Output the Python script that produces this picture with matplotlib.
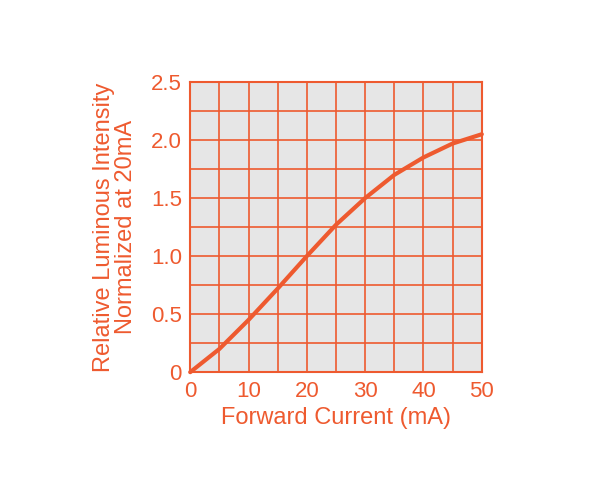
import matplotlib
matplotlib.use("Agg")
import matplotlib.pyplot as plt
import numpy as np

current = [0, 5, 10, 15, 20, 25, 30, 35, 40, 45, 50]
intensity = [0.0, 0.2, 0.45, 0.72, 1.0, 1.27, 1.5, 1.7, 1.85, 1.97, 2.05]
xticks = [0, 10, 20, 30, 40, 50]
yticks = [0, 0.5, 1.0, 1.5, 2.0, 2.5]
ylabels = ["0", "0.5", "1.0", "1.5", "2.0", "2.5"]

c = "#EE5A2F"
plt.rcParams['font.family'] = ['Liberation Sans', 'DejaVu Sans']
fig = plt.figure(figsize=(6, 4.91), dpi=100)
ax = fig.add_axes([0.317, 0.242, 0.486, 0.591])
ax.set_facecolor("#E6E6E6")
ax.set_xlim(0, 50)
ax.set_ylim(0, 2.5)
ax.set_xticks(xticks)
ax.set_xticks(np.arange(0, 51, 5), minor=True)
ax.set_yticks(yticks)
ax.set_yticklabels(ylabels)
ax.set_yticks(np.arange(0, 2.51, 0.25), minor=True)
ax.grid(True, which='both', color=c, linewidth=1.2)
ax.set_axisbelow(True)
ax.tick_params(which='both', length=0, labelsize=16, labelcolor=c, pad=6)
for s in ax.spines.values():
    s.set_color(c); s.set_linewidth(1.5)
ax.plot(current, intensity, color=c, linewidth=3, solid_capstyle='round', clip_on=False, zorder=5)
ax.set_xlabel("Forward Current (mA)", color=c, fontsize=17, labelpad=4)
ax.set_ylabel("Relative Luminous Intensity\nNormalized at 20mA", color=c, fontsize=17, labelpad=10, linespacing=1.0)
fig.savefig("out.png", dpi=100, facecolor="white")
